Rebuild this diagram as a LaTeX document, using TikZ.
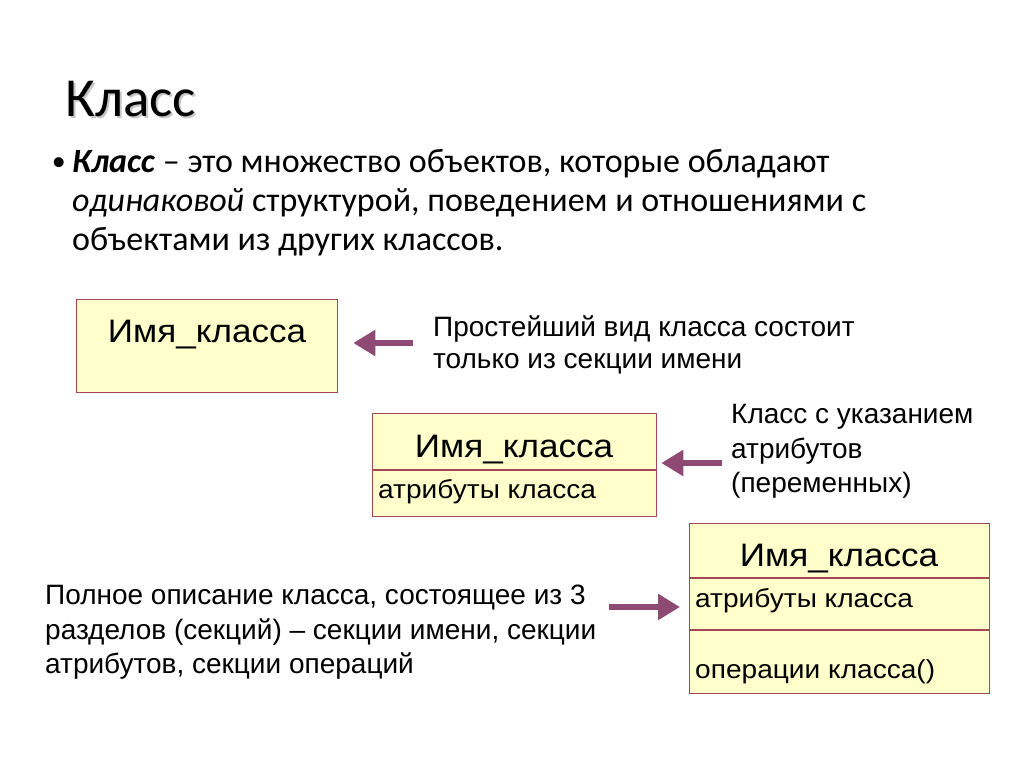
\documentclass[tikz,border=0pt]{standalone}
\usepackage{fontspec}
\setmainfont{Carlito}
\newfontfamily\arialf{Liberation Sans}
\newfontfamily\arialw{Liberation Sans}[FakeStretch=1.08]
\usetikzlibrary{arrows.meta}
\definecolor{boxfill}{RGB}{255,255,204}
\definecolor{boxline}{RGB}{165,70,85}
\definecolor{arrcol}{RGB}{142,74,114}
\tikzset{
  clsbox/.style={draw=boxline, line width=1.3pt, fill=boxfill, inner sep=0pt, anchor=north west},
  bigarrow/.style={draw=arrcol, line width=6pt, -{Triangle[length=22pt,width=25pt]}},
  titletxt/.style={anchor=base west, inner sep=0pt, font=\fontsize{55}{62}\selectfont},
  bodytxt/.style={anchor=base west, inner sep=0pt, font=\fontsize{34}{40}\selectfont},
  sidetxt/.style={anchor=base west, inner sep=0pt, font=\arialf\fontsize{28}{32}\selectfont},
  nametxt/.style={anchor=base, inner sep=0pt, font=\arialw\fontsize{32.5}{38}\selectfont},
  attrtxt/.style={anchor=base west, inner sep=0pt, font=\arialw\fontsize{26}{30}\selectfont},
}
\begin{document}
\begin{tikzpicture}[x=1pt,y=-1pt]
\useasboundingbox[fill=white] (0,0) rectangle (1024,767);

% title with soft shadow
\node[titletxt, text=black!22] (titleshadow) at (67,119) {Класс};
\node[titletxt] (title) at (65,117) {Класс};

% bullet text
\node[bodytxt, anchor=base east, font=\fontsize{28}{34}\selectfont] (bul) at (66,171) {•};
\node[bodytxt] (l1) at (72,173) {\textbf{\textit{Класс}} – это множество объектов, которые обладают};
\node[bodytxt] (l2) at (72,212) {\textit{одинаковой} структурой, поведением и отношениями с};
\node[bodytxt] (l3) at (72,250) {объектами из других классов.};

% box 1
\node[clsbox, minimum width=261pt, minimum height=93pt] (b1) at (76,299) {};
\node[nametxt] (b1n) at (207,342) {Имя\_класса};

% box 2
\node[clsbox, minimum width=284pt, minimum height=103pt] (b2) at (372,413) {};
\draw[boxline, line width=1.3pt] (372,470) -- (656,470);
\node[nametxt] (b2n) at (514,457) {Имя\_класса};
\node[attrtxt] (b2a) at (378,498) {атрибуты класса};

% box 3
\node[clsbox, minimum width=300pt, minimum height=170pt] (b3) at (689,523) {};
\draw[boxline, line width=1.3pt] (689,578) -- (989,578);
\draw[boxline, line width=1.3pt] (689,630) -- (989,630);
\node[nametxt] (b3n) at (839,566) {Имя\_класса};
\node[attrtxt] (b3a) at (695,607) {атрибуты класса};
\node[attrtxt] (b3o) at (695,678) {операции класса()};

% side labels
\node[sidetxt] (s1a) at (433,336) {Простейший вид класса состоит};
\node[sidetxt] (s1b) at (433,368) {только из секции имени};
\node[sidetxt] (s2a) at (731,423) {Класс с указанием};
\node[sidetxt] (s2b) at (731,458) {атрибутов};
\node[sidetxt] (s2c) at (731,492) {(переменных)};
\node[sidetxt] (s3a) at (45,604) {Полное описание класса, состоящее из 3};
\node[sidetxt] (s3b) at (45,639) {разделов (секций) – секции имени, секции};
\node[sidetxt] (s3c) at (45,673) {атрибутов, секции операций};

% arrows
\coordinate (a1) at (413,343);
\coordinate (a2) at (722,463);
\coordinate (a3) at (609,607);
\draw[bigarrow, shorten >=15pt] (a1) -- (a1 -| b1.east);
\draw[bigarrow, shorten >=4pt] (a2) -- (a2 -| b2.east);
\draw[bigarrow, shorten >=9pt] (a3) -- (a3 -| b3.west);
\end{tikzpicture}
\end{document}
